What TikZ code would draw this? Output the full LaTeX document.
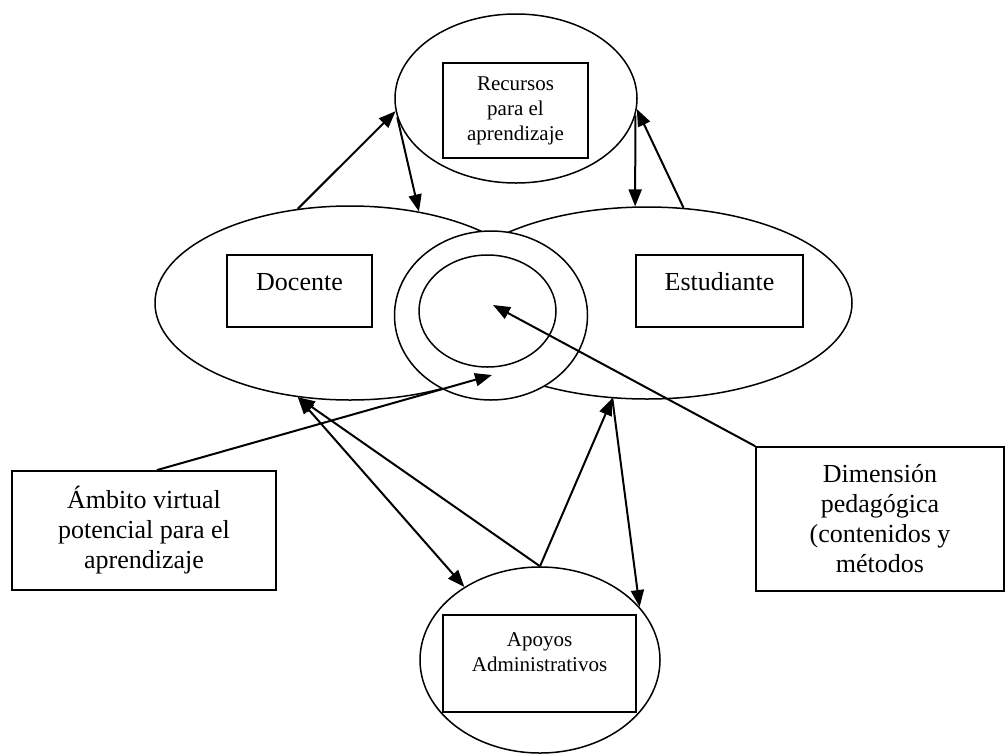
\documentclass[tikz,border=0pt]{standalone}
\usepackage{fontspec}
\setmainfont{Liberation Serif}
\usetikzlibrary{shapes.geometric,arrows.meta}
\begin{document}
\begin{tikzpicture}[x=1pt,y=-1pt,
  oval/.style={ellipse,draw,line width=1.5pt,inner sep=0pt},
  box/.style={draw,line width=1.8pt,inner sep=0pt},
  bigtxt/.style={font=\fontsize{26}{30}\selectfont,align=center,inner sep=0pt},
  smalltxt/.style={font=\fontsize{21}{25}\selectfont,align=center,inner sep=0pt},
  link/.style={line width=2pt,-{Triangle[length=17pt,width=13pt]}},
  dlink/.style={line width=2pt,{Triangle[length=17pt,width=13pt]}-{Triangle[length=17pt,width=13pt]}}]
\useasboundingbox (0,0) rectangle (1006,753);

% the two large actors
\node[oval,minimum width=390pt,minimum height=194pt] (doc) at (350,303) {};
\node[oval,minimum width=410pt,minimum height=192pt] (est) at (647,303) {};
% shared learning space in the middle
\node[oval,fill=white,minimum width=193pt,minimum height=169pt] (ring) at (491,315.5) {};
\node[oval,minimum width=137pt,minimum height=112pt] (core) at (487.5,311) {};
% resources and administrative support
\node[oval,minimum width=242pt,minimum height=169pt] (rec) at (516,98.5) {};
\node[oval,minimum width=240pt,minimum height=186pt] (apo) at (540,660) {};

% boxes with their texts
\node[box,smalltxt,minimum width=145pt,minimum height=95pt] (recbox) at (515.5,110.5) {Recursos\\para el\\aprendizaje};
\node[box,minimum width=145pt,minimum height=72pt] (docbox) at (299.5,291) {};
\node[bigtxt] (doctxt) at (299.5,282) {Docente};
\node[box,minimum width=167pt,minimum height=72pt] (estbox) at (719.5,291) {};
\node[bigtxt] (esttxt) at (719.5,282) {Estudiante};
\node[box,minimum width=193pt,minimum height=97pt] (apobox) at (539.5,663.5) {};
\node[smalltxt] (apotxt) at (539.5,652) {Apoyos\\Administrativos};
\node[box,bigtxt,minimum width=264pt,minimum height=119pt] (amb) at (144,530.5) {Ámbito virtual\\potencial para el\\aprendizaje};
\node[box,bigtxt,minimum width=248pt,minimum height=144pt] (dim) at (880,519) {Dimensión\\pedagógica\\(contenidos y\\métodos};

% free ends of the two pointer arrows
\coordinate (ambtip) at (492,375);
\coordinate (dimtip) at (493,305);

% connectors
\draw[link] (doc.119) -- (rec.186);
\draw[link] (rec.189) -- (doc.53);
\draw[link] (rec.352) -- (est.97);
\draw[link] (est.69) -- (rec.355);
\draw[link] (amb.78) -- (ambtip);
\draw[link] (dim.north west) -- (dimtip);
\draw[link] (apo.north) -- (doc.241);
\draw[dlink] (doc.241) -- (apo.136);
\draw[link] (apo.north) -- (est.250);
\draw[link] (est.250) -- (apo.28);
\end{tikzpicture}
\end{document}
